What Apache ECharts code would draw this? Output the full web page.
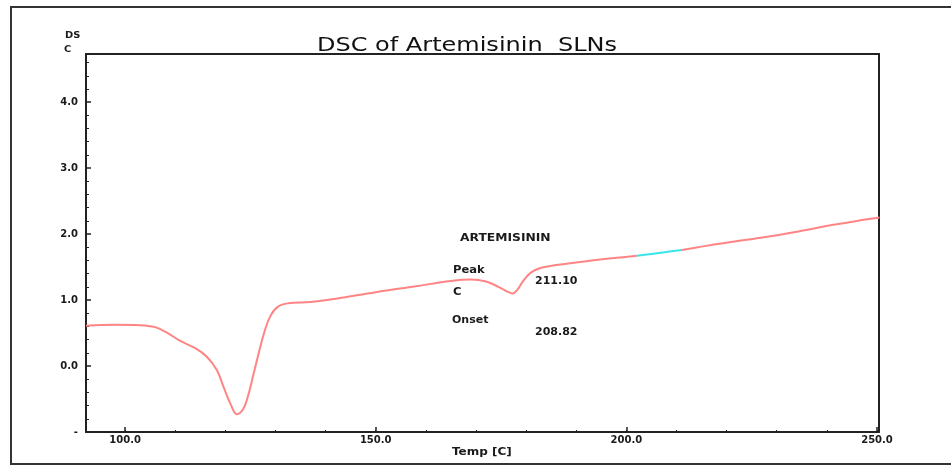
<!DOCTYPE html>
<html>
<head>
<meta charset="utf-8">
<script src="https://cdn.jsdelivr.net/npm/echarts@6/dist/echarts.min.js"></script>
<style>
html,body{margin:0;padding:0;background:#fff;}
#chart{width:951px;height:466px;}
</style>
</head>
<body>
<div id="chart"></div>
<script>
// Temperature (°C) and DSC signal
const temps = [92.2, 98, 103, 106, 108.5, 111, 114, 116.3, 118.3, 119.6, 121, 122.3, 123.5, 124.5, 125.5, 126.5, 127.8, 129, 130.5, 132.5, 137, 142, 150, 158, 165, 169, 172, 174.5, 176.5, 177.3, 178.3, 179.5, 181, 183, 186, 192, 198, 202.1];
const dsc   = [0.61, 0.625, 0.62, 0.59, 0.50, 0.38, 0.27, 0.14, -0.06, -0.31, -0.57, -0.73, -0.66, -0.46, -0.16, 0.15, 0.52, 0.76, 0.90, 0.95, 0.97, 1.02, 1.12, 1.21, 1.29, 1.31, 1.28, 1.20, 1.12, 1.10, 1.16, 1.30, 1.42, 1.49, 1.53, 1.59, 1.64, 1.67];
const cyanTemps = [202.1, 205, 208, 211.1];
const cyanDsc   = [1.67, 1.70, 1.73, 1.76];
const tailTemps = [211.1, 215, 220, 228.1, 235, 241.3, 246, 250.5];
const tailDsc   = [1.76, 1.81, 1.87, 1.96, 2.05, 2.14, 2.20, 2.25];
const xLabelValues = [100, 150, 200, 250];
const xMinorValues = [100, 110, 120, 130, 140, 150, 160, 170, 180, 190, 200, 210, 220, 230, 240, 250];
const yMinorValues = [-0.8, -0.6, -0.4, -0.2, 0.2, 0.4, 0.6, 0.8, 1.2, 1.4, 1.6, 1.8, 2.2, 2.4, 2.6, 2.8, 3.2, 3.4, 3.6, 3.8, 4.2, 4.4, 4.6];
const titleText = 'DSC of Artemisinin  SLNs';
const yName = ['DS', 'C'];
const xName = 'Temp [C]';
const annotations = ['ARTEMISININ', 'Peak', 'C', '211.10', 'Onset', '208.82'];

const mainLine = temps.map((t, i) => [t, dsc[i]]);
const tailLine = tailTemps.map((t, i) => [t, tailDsc[i]]);
const cyanLine = cyanTemps.map((t, i) => [t, cyanDsc[i]]);

const FONT = '"DejaVu Sans", "Liberation Sans", Arial, sans-serif';
const txt = { fontFamily: FONT, fontSize: 10, fontWeight: 'bold', fill: '#1a1a1a', textAlign: 'left', textVerticalAlign: 'top' };

const chart = echarts.init(document.getElementById('chart'), null, {renderer: 'canvas'});
const grid = {left: 86, top: 54, right: 72, bottom: 34, containLabel: false, show: false};
const xBase = {type: 'value', min: 92.2, max: 250.4, gridIndex: 0, splitLine: {show: false}};
const yBase = {type: 'value', min: -1, max: 4.73, gridIndex: 0, splitLine: {show: false}};
const axLine = {show: true, onZero: false, lineStyle: {color: '#222', width: 2}};
const noLine = {show: false, onZero: false};

function label(text, x, y, sx, extra) {
  return {type: 'text', x: x, y: y, scaleX: sx, silent: true,
    style: Object.assign({}, txt, {text: text}, extra || {})};
}

chart.setOption({
  animation: false,
  backgroundColor: '#fff',
  grid: grid,
  xAxis: [
    Object.assign({}, xBase, {
      position: 'bottom', axisLine: axLine,
      axisTick: {show: true, inside: true, length: 5, customValues: xLabelValues, lineStyle: {color: '#222', width: 1.5}},
      axisLabel: {show: true, customValues: xLabelValues, formatter: v => v.toFixed(1), margin: 3,
        fontFamily: FONT, fontSize: 10, fontWeight: 'bold', color: '#1a1a1a', showMinLabel: true, showMaxLabel: true}
    }),
    Object.assign({}, xBase, {
      position: 'bottom', axisLine: noLine,
      axisTick: {show: true, inside: true, length: 2, customValues: xMinorValues, lineStyle: {color: '#222', width: 1}},
      axisLabel: {show: false}
    }),
    Object.assign({}, xBase, {
      position: 'top', axisLine: axLine, axisTick: {show: false}, axisLabel: {show: false}
    })
  ],
  yAxis: [
    Object.assign({}, yBase, {
      position: 'left', interval: 1, axisLine: axLine,
      axisTick: {show: true, inside: true, length: 5, lineStyle: {color: '#222', width: 1.5}},
      axisLabel: {show: true, margin: 8, showMaxLabel: false, formatter: v => (v === -1 ? '-' : v.toFixed(1)),
        fontFamily: FONT, fontSize: 10, fontWeight: 'bold', color: '#1a1a1a'}
    }),
    Object.assign({}, yBase, {
      position: 'left', axisLine: noLine,
      axisTick: {show: true, inside: true, length: 3, customValues: yMinorValues, lineStyle: {color: '#222', width: 1}},
      axisLabel: {show: false}
    }),
    Object.assign({}, yBase, {
      position: 'right', axisLine: axLine, axisTick: {show: false}, axisLabel: {show: false}
    })
  ],
  series: [
    {type: 'line', xAxisIndex: 0, yAxisIndex: 0, data: mainLine, smooth: 0.4, showSymbol: false,
      lineStyle: {color: '#ff8585', width: 2}},
    {type: 'line', xAxisIndex: 0, yAxisIndex: 0, data: cyanLine, smooth: 0.4, showSymbol: false,
      lineStyle: {color: '#36e6ea', width: 2}},
    {type: 'line', xAxisIndex: 0, yAxisIndex: 0, data: tailLine, smooth: 0.4, showSymbol: false,
      lineStyle: {color: '#ff8585', width: 2}}
  ],
  graphic: [
    {type: 'polyline', shape: {points: [[960, 7], [11, 7], [11, 464], [960, 464]]}, style: {stroke: '#333', lineWidth: 2, fill: null}, silent: true},
    label(titleText, 317, 36, 1.2, {fontSize: 20, fontWeight: 'normal', fill: '#111'}),
    label(yName[0], 65, 31, 1.1, {fontSize: 9}),
    label(yName[1], 64, 45, 1.1, {fontSize: 9}),
    label(xName, 452, 447, 1.2),
    label(annotations[0], 460, 233, 1.23),
    label(annotations[1], 453, 265, 1.15),
    label(annotations[2], 453, 287, 1.15),
    label(annotations[3], 535, 276, 1.1),
    label(annotations[4], 452, 315, 1.1),
    label(annotations[5], 535, 327, 1.1)
  ]
});
</script>
</body>
</html>
